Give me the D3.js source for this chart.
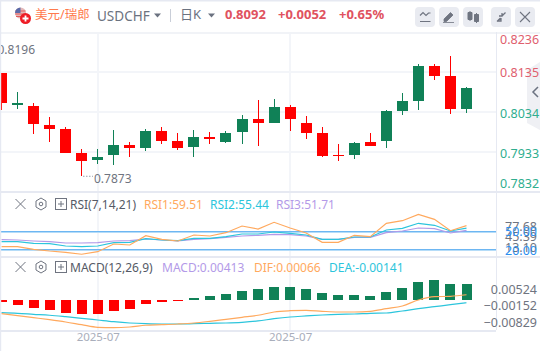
<!DOCTYPE html>
<html><head><meta charset="utf-8">
<script src="https://cdn.jsdelivr.net/npm/d3@7"></script>
<style>
html,body{margin:0;padding:0;background:#fff;overflow:hidden}
svg{display:block}
text{font-family:"Noto Sans","Noto Sans CJK SC",sans-serif}
.domain{display:none}
</style></head><body><svg id="c" width="540" height="351"></svg>
<script>
const opens=[0.8132,0.80504,0.80479,0.8,0.79898,0.79292,0.79115,0.79241,0.79494,0.79418,0.79848,0.79595,0.79444,0.79696,0.79570,0.79822,0.80151,0.80050,0.80454,0.8005,0.79797,0.79242,0.79241,0.79570,0.79595,0.80353,0.80605,0.81489,0.81236,0.80403];
const closes=[0.80562,0.80555,0.80032,0.7990,0.79292,0.79090,0.79190,0.79494,0.79418,0.79848,0.79595,0.79418,0.79696,0.79646,0.79797,0.80151,0.8005,0.80454,0.80151,0.79797,0.79216,0.79216,0.79544,0.79469,0.80353,0.80605,0.81489,0.81236,0.80403,0.80933];
const highs=[0.8132,0.80833,0.80555,0.80201,0.7995,0.79393,0.79393,0.79873,0.79570,0.79898,0.7995,0.79797,0.79873,0.79822,0.79848,0.80252,0.8063,0.80656,0.80504,0.80226,0.7995,0.79519,0.79570,0.79797,0.80378,0.80807,0.81539,0.81539,0.81741,0.80959];
const lows=[0.80378,0.80411,0.79772,0.79578,0.79292,0.7873,0.79022,0.78989,0.79191,0.79343,0.79519,0.79368,0.79191,0.79519,0.79545,0.79519,0.79469,0.8005,0.79848,0.79646,0.79191,0.7909,0.79141,0.79469,0.79418,0.80252,0.80378,0.81135,0.80277,0.80302];
const rsi1=[25.35,25.35,21.14,18.38,16.27,13.10,17.24,29.73,28.11,43.19,37.35,34.6,44.32,42.7,48.05,58.92,54.05,64.92,55.68,47.57,32.49,32.49,43.84,41.57,63.3,67.51,77.68,69.78,51.3,59.51];
const rsi2=[33.46,33.46,30.87,30.22,26.49,25.35,26.49,31.84,32.49,38.32,36.22,35.08,38.97,38.97,41.57,45.95,45.95,49.19,47.08,44.32,37.35,37.35,41.08,41.08,52.43,55.19,63.3,60.05,50.81,55.44];
const rsi3=[36.7,36.22,34.6,33.46,31.35,31.35,31.84,34.6,35.08,37.84,36.22,34.6,37.35,38.32,40.59,42.7,43.84,45.46,44.81,42.7,37.35,37.35,40.59,40.59,48.05,50.81,55.68,54.54,47.57,51.71];
const macd=[-0.00052,-0.00129,-0.00206,-0.00258,-0.00335,-0.00361,-0.00361,-0.00284,-0.00232,-0.00103,-0.00052,-0.00026,0.00052,0.00103,0.00155,0.00232,0.00284,0.00335,0.00335,0.00284,0.00181,0.00129,0.00129,0.00103,0.00206,0.0031,0.00464,0.00516,0.00413,0.00413];
const dif=[-0.00423,-0.00475,-0.00526,-0.00578,-0.00637,-0.00707,-0.00774,-0.00784,-0.00766,-0.00722,-0.00707,-0.00689,-0.00663,-0.00619,-0.00568,-0.00516,-0.00464,-0.00379,-0.00346,-0.00335,-0.00361,-0.00379,-0.00379,-0.00361,-0.00294,-0.00224,-0.0007,0.00015,0.00026,0.00066];
const dea=[-0.00397,-0.00413,-0.00439,-0.00464,-0.00501,-0.00542,-0.00586,-0.0063,-0.00663,-0.00681,-0.00689,-0.00689,-0.00681,-0.00671,-0.00663,-0.00645,-0.00611,-0.00552,-0.00508,-0.00482,-0.00457,-0.00439,-0.00431,-0.00413,-0.00405,-0.00353,-0.00294,-0.00243,-0.00191,-0.00141];
const priceTicks=[0.8236,0.8135,0.8034,0.7933,0.7832];
const visibleHigh=0.8196;
const rsiLevels=[50,20];
const rsiExtremes=[77.68,45.39,13.10];
const macdTicks=[0.00524,-0.00152,-0.00829];
const dateLabels=["2025-07","2025-07"];
const dateIndex=[6,18];
const headerParts=["美元/瑞郎","USDCHF","日K","0.8092","+0.0052","+0.65%"];

const svg=d3.select("#c");
const idx=d3.range(opens.length);
const x=d3.scaleLinear().domain([0,29]).range([1.5,466.5]);
const y=d3.scaleLinear().domain([0.8135,0.8034]).range([71.5,111.7]);
const yLab=d3.scaleLinear().domain(priceTicks).range([39,72,113,153,183]);
const yR=d3.scaleLinear().domain([50,20]).range([231.5,250]);
const yRLab=d3.scaleLinear().domain([77.68,13.10]).range([226,247]);
const yBar=d3.scaleLinear().domain([0,0.00413]).range([300,284]);
const yLine=d3.scaleLinear().domain([0,0.00413]).range([297.3,281.3]);
const yMLab=d3.scaleLinear().domain([0.00524,-0.00829]).range([289.5,322]);

const RED="#ff0000",GREEN="#108157",GRID="#f3f5f9",BORDER="#e6e9f2";
const g=svg.append("g").attr("shape-rendering","crispEdges");
[71,111,151].forEach(v=>g.append("rect").attr("x",0).attr("y",v).attr("width",496).attr("height",1.5).attr("fill",GRID));
[97,289].forEach(v=>g.append("rect").attr("x",v).attr("y",32).attr("width",1.5).attr("height",298).attr("fill",GRID));
[[0,32,540],[0,191,540],[0,256,540],[0,330,496]].forEach(a=>g.append("rect").attr("x",a[0]).attr("y",a[1]).attr("width",a[2]).attr("height",1.5).attr("fill",a[1]==32?"#f1f3f7":BORDER));
g.append("rect").attr("x",496).attr("y",32).attr("width",1).attr("height",298).attr("fill",BORDER);

const col=i=>closes[i]>=opens[i]?GREEN:RED;
const c=svg.append("g").attr("shape-rendering","crispEdges");
c.selectAll(".w").data(idx).join("rect").attr("x",i=>Math.round(x(i)-0.5)).attr("width",1)
 .attr("y",i=>y(highs[i])).attr("height",i=>Math.max(1,y(lows[i])-y(highs[i]))).attr("fill",col);
c.selectAll(".b").data(idx).join("rect").attr("x",i=>Math.round(x(i)-5.5)).attr("width",11)
 .attr("y",i=>y(Math.max(opens[i],closes[i]))).attr("height",i=>Math.max(1,Math.abs(y(opens[i])-y(closes[i])))).attr("fill",col);

svg.append("text").attr("x",35).attr("y",54).attr("text-anchor","end").attr("font-size",12).attr("fill","#6f7480").text(d3.format(".4f")(visibleHigh));
svg.append("line").attr("x1",83).attr("x2",93).attr("y1",y(d3.min(lows))+.5).attr("y2",y(d3.min(lows))+.5).attr("stroke","#9aa0ac").attr("stroke-dasharray","1.5 1.5");
svg.append("text").attr("x",94).attr("y",183).attr("font-size",12).attr("fill","#6f7480").text(d3.format(".4f")(d3.min(lows)));

svg.append("path").attr("d","M540 62L527 70V123L540 130Z").attr("fill","#eff0f4");
svg.append("path").attr("d","M538 87L533 92L538 97").attr("fill","none").attr("stroke","#6b7280").attr("stroke-width",1.5);

const ax=d3.axisRight(yLab).tickValues(priceTicks).tickSize(0).tickPadding(0).tickFormat(d3.format(".4f"));
const axg=svg.append("g").attr("transform","translate(500,0)").call(ax);
axg.selectAll("text").attr("font-size",12.5).attr("fill",d=>d>0.81?"#e0606e":"#2fae8f");

rsiLevels.forEach(v=>{
 svg.append("rect").attr("x",0).attr("width",496).attr("y",yR(v)-1).attr("height",1).attr("fill","#6db6f2").attr("shape-rendering","crispEdges");
 svg.append("rect").attr("x",0).attr("width",496).attr("y",yR(v)).attr("height",1).attr("fill","#b5dcf8").attr("shape-rendering","crispEdges");
});
const lineR=d3.line().x((d,i)=>x(i)).y(d=>yR(d));
[[rsi3,"#b39ae8"],[rsi2,"#2cc5dc"],[rsi1,"#ffa95e"]].forEach(a=>svg.append("path").attr("d",lineR(a[0])).attr("fill","none").attr("stroke",a[1]).attr("stroke-width",1.2));
const ar=svg.append("g").attr("transform","translate(537,0)").call(d3.axisLeft(yRLab).tickValues(rsiExtremes).tickSize(0).tickPadding(0).tickFormat(d3.format(".2f")));
ar.selectAll("text").attr("font-size",12.5).attr("fill","#6f7480");
const ar2=svg.append("g").attr("transform","translate(537,0)").call(d3.axisLeft(yR).tickValues(rsiLevels).tickSize(0).tickPadding(0).tickFormat(d3.format(".2f")));
ar2.selectAll("text").attr("font-size",12.5).attr("fill","#2b8ff0");

svg.append("g").attr("shape-rendering","crispEdges").selectAll("rect").data(idx).join("rect")
 .attr("x",i=>Math.round(x(i)-5)).attr("width",10)
 .attr("y",i=>Math.min(yBar(macd[i]),yBar(0))).attr("height",i=>Math.abs(yBar(macd[i])-yBar(0)))
 .attr("fill",i=>macd[i]>=0?GREEN:RED);
const lineM=d3.line().x((d,i)=>x(i)).y(d=>yLine(d)).curve(d3.curveMonotoneX);
[[dea,"#2cc5dc"],[dif,"#ffa95e"]].forEach(a=>svg.append("path").attr("d",lineM(a[0])).attr("fill","none").attr("stroke",a[1]).attr("stroke-width",1.2));
const am=svg.append("g").attr("transform","translate(537,0)").call(d3.axisLeft(yMLab).tickValues(macdTicks).tickSize(0).tickPadding(0).tickFormat(d3.format(".5f")));
am.selectAll("text").attr("font-size",12.5).attr("fill","#6f7480");

const axd=svg.append("g").attr("transform","translate(0,332)").call(d3.axisBottom(x).tickValues(dateIndex).tickSize(0).tickPadding(1).tickFormat((d,i)=>dateLabels[i]));
axd.selectAll("text").attr("font-size",11.5).attr("fill","#a9aebb").attr("font-family",'"Noto Sans",sans-serif');

function t(px,py,s,fs,fill,w){return svg.append("text").attr("x",px).attr("y",py).attr("font-size",fs).attr("fill",fill).attr("font-weight",w||400).text(s);}
t(35,19,headerParts[0],12.5,"#ff7a4d");
t(97,21,headerParts[1],13.5,"#6b7280");
t(180,19,headerParts[2],13,"#6b7280");
t(225,19,headerParts[3],13,"#e05260",700);
t(278,19,headerParts[4],13,"#e05260",700);
t(339,19,headerParts[5],13,"#e05260",700);
svg.append("path").attr("d","M154 13.5h7l-3.5 4z").attr("fill","#6b7280");
svg.append("path").attr("d","M208 13.5h7l-3.5 4z").attr("fill","#6b7280");
svg.append("rect").attr("x",170).attr("y",9).attr("width",1).attr("height",13).attr("fill","#c9ced8");
const fl=svg.append("g");
fl.append("circle").attr("cx",20.5).attr("cy",13).attr("r",5.5).attr("fill","#e4b8b8");
fl.append("path").attr("d","M15.5 11h10M15.2 14h10.6M16 16.5h9").attr("stroke","#e25c5c").attr("stroke-width",1.1);
fl.append("path").attr("d","M15 13A5.5 5.5 0 0 1 20.5 7.5V13Z").attr("fill","#5a6aa8");
fl.append("circle").attr("cx",25.5).attr("cy",18.5).attr("r",5.5).attr("fill","#ee1c25");
fl.append("path").attr("d","M22.5 18.5h6M25.5 15.5v6").attr("stroke","#fff").attr("stroke-width",1.8);
[415,439,463,491,515].forEach(v=>svg.append("rect").attr("x",v).attr("y",7).attr("width",20).attr("height",20).attr("rx",4).attr("fill","#e9ebf1"));
const I="#6f7480";
svg.append("path").attr("d","M420 15.5l3-3 3 3 2.5-2.5h2M420 21.5h10.5").attr("fill","none").attr("stroke",I).attr("stroke-width",1.2);
svg.append("path").attr("d","M444 19l6.5-6.5 2.5 2.5-6.5 6.5h-2.5zM443 22.5h11").attr("fill",I).attr("stroke",I).attr("stroke-width",.8);
svg.append("path").attr("d","M468 12.5h4v7h-4zM470 11v10M474.5 14.5h4v7h-4zM476.5 13v10").attr("fill",I).attr("stroke",I);
svg.append("path").attr("d","M497 21.5l3.5-3.5M505.5 12.5l-3.5 3.5M499 16h3v-3M501 18v3h-3").attr("fill","none").attr("stroke",I).attr("stroke-width",1.3);
svg.append("path").attr("d","M520 12l10 10M530 12l-10 10").attr("stroke",I).attr("stroke-width",1.1);

function paneIcons(cy){
 svg.append("path").attr("d",`M15.5 ${cy-5}l10 10M25.5 ${cy-5}l-10 10`).attr("stroke",I).attr("stroke-width",1);
 svg.append("path").attr("d",`M41 ${cy-6}l5 3v6l-5 3-5-3v-6z`).attr("fill","none").attr("stroke",I).attr("stroke-width",1);
 svg.append("circle").attr("cx",41).attr("cy",cy).attr("r",1.8).attr("fill","none").attr("stroke",I);
 svg.append("rect").attr("x",55.5).attr("y",cy-5.5).attr("width",11).attr("height",11).attr("fill","none").attr("stroke",I);
 svg.append("path").attr("d",`M58 ${cy}h6M61 ${cy-3}v6`).attr("stroke",I);
}
paneIcons(204);paneIcons(267);
t(70,209,"RSI(7,14,21)",12,"#555a66");
t(144,209,"RSI1:59.51",12,"#ffa95e");
t(210,209,"RSI2:55.44",12,"#2cc5dc");
t(276,209,"RSI3:51.71",12,"#b39ae8");
t(70,272,"MACD(12,26,9)",12,"#555a66");
t(162,272,"MACD:0.00413",12,"#b39ae8");
t(254,272,"DIF:0.00066",12,"#ffa95e");
t(329,272,"DEA:-0.00141",12,"#2cc5dc");
svg.append("rect").attr("x",0).attr("y",0).attr("width",540).attr("height",1.5).attr("fill",BORDER);
svg.append("rect").attr("x",0).attr("y",0).attr("width",1.2).attr("height",351).attr("fill",BORDER);
</script></body></html>
